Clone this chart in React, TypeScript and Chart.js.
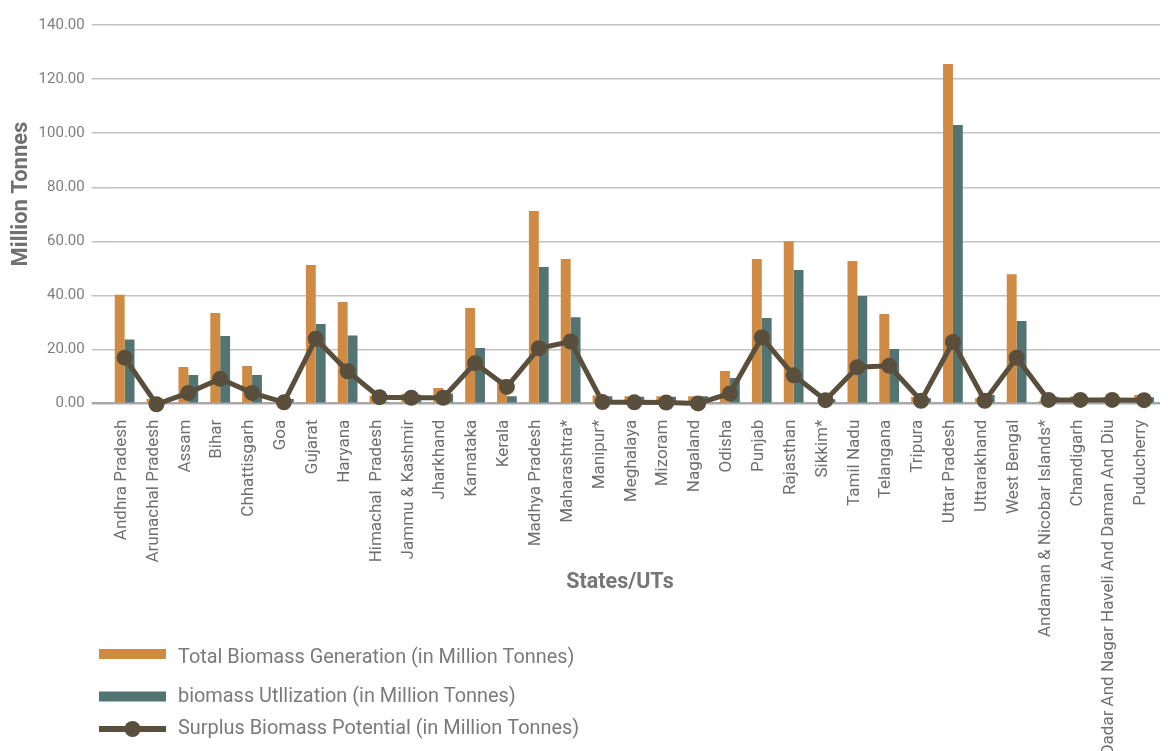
import { useEffect, useRef } from "react";
import { Chart, registerables } from "chart.js";

Chart.register(...registerables);

// States / union territories along the category axis
const states = [
  "Andhra Pradesh",
  "Arunachal Pradesh",
  "Assam",
  "Bihar",
  "Chhattisgarh",
  "Goa",
  "Gujarat",
  "Haryana",
  "Himachal  Pradesh",
  "Jammu & Kashmir",
  "Jharkhand",
  "Karnataka",
  "Kerala",
  "Madhya Pradesh",
  "Maharashtra*",
  "Manipur*",
  "Meghalaya",
  "Mizoram",
  "Nagaland",
  "Odisha",
  "Punjab",
  "Rajasthan",
  "Sikkim*",
  "Tamil Nadu",
  "Telangana",
  "Tripura",
  "Uttar Pradesh",
  "Uttarakhand",
  "West Bengal",
  "Andaman & Nicobar Islands*",
  "Chandigarh",
  "Dadar And Nagar Haveli And Daman And Diu",
  "Puducherry",
];

// Million tonnes per state
const totalGeneration = [
  40.3, 1.7, 13.6, 33.5, 13.9, 1.4, 51.3, 37.6, 2.9, 3.7, 5.8, 35.4, 9.0, 71.2,
  53.5, 3.0, 2.8, 2.8, 2.8, 12.1, 53.5, 60.1, 0.5, 52.8, 33.2, 2.5, 125.6, 2.0,
  47.9, 1.0, 2.8, 2.4, 3.2,
];

const biomassUtilization = [
  23.7, 1.0, 10.6, 25.0, 10.6, 1.7, 29.5, 25.2, 0.6, 3.3, 3.8, 20.6, 2.8, 50.5,
  32.0, 2.8, 2.6, 2.6, 2.8, 9.5, 31.7, 49.4, 1.6, 39.8, 20.2, 2.0, 103.0, 3.2,
  30.6, 2.6, 0.5, 0.5, 2.4,
];

const surplusPotential = [
  17.0, -0.2, 4.0, 9.2, 4.0, 0.5, 24.0, 12.0, 2.4, 2.2, 2.2, 15.0, 6.2, 20.5,
  23.0, 0.6, 0.5, 0.4, 0.1, 3.8, 24.5, 10.5, 1.3, 13.5, 14.0, 1.1, 22.8, 1.1,
  17.0, 1.4, 1.4, 1.4, 1.3,
];

const seriesLabels = [
  "Total Biomass Generation (in Million Tonnes)",
  "biomass Utllization (in Million Tonnes)",
  "Surplus Biomass Potential (in Million Tonnes)",
];

const yAxisTitle = "Million Tonnes";
const xAxisTitle = "States/UTs";

const ORANGE = "#cf8a43";
const TEAL = "#527472";
const BROWN = "#5a4f3c";
const FONT = "Roboto, 'Noto Sans', sans-serif";

// Axis titles placed at fixed spots around the plot
const axisTitlesPlugin = {
  id: "axisTitles",
  afterDraw(chart: any) {
    const ctx = chart.ctx;
    ctx.save();
    ctx.font = `bold 21.5px ${FONT}`;
    ctx.textAlign = "center";
    ctx.textBaseline = "middle";
    ctx.fillStyle = "#767676";
    ctx.fillText(xAxisTitle, 620, 583);
    ctx.translate(21, 194);
    ctx.rotate(-Math.PI / 2);
    ctx.fillStyle = "#707070";
    ctx.font = `bold 22px ${FONT}`;
    ctx.fillText(yAxisTitle, 0, 0);
    ctx.restore();
  },
};

// Stacked legend in the lower-left corner
const stackedLegendPlugin = {
  id: "stackedLegend",
  afterDraw(chart: any) {
    const ctx = chart.ctx;
    const rows = [
      { swatchY: 654, textY: 658 },
      { swatchY: 696.5, textY: 697 },
      { swatchY: 729, textY: 729 },
    ];
    const x0 = 99;
    const x1 = 166;
    ctx.save();
    chart.data.datasets.forEach((ds: any, i: number) => {
      const row = rows[i];
      if (!row) return;
      if (ds.type === "line") {
        ctx.strokeStyle = ds.borderColor;
        ctx.lineWidth = 6;
        ctx.beginPath();
        ctx.moveTo(x0, row.swatchY);
        ctx.lineTo(x1, row.swatchY);
        ctx.stroke();
        ctx.fillStyle = ds.pointBackgroundColor;
        ctx.beginPath();
        ctx.arc((x0 + x1) / 2, row.swatchY, 8, 0, Math.PI * 2);
        ctx.fill();
      } else {
        ctx.fillStyle = ds.backgroundColor;
        ctx.fillRect(x0, row.swatchY - 5, x1 - x0, 10);
      }
      ctx.font = `19.9px ${FONT}`;
      ctx.fillStyle = "#7a7a7a";
      ctx.textAlign = "left";
      ctx.textBaseline = "middle";
      ctx.fillText(ds.label, 178, row.textY);
    });
    ctx.restore();
  },
};

export default function App() {
  const canvasRef = useRef<HTMLCanvasElement | null>(null);

  useEffect(() => {
    document.body.style.margin = "0";
    const canvas = canvasRef.current;
    if (!canvas) return;

    const chart = new Chart(canvas, {
      type: "bar",
      data: {
        labels: states,
        datasets: [
          {
            type: "bar",
            label: seriesLabels[0],
            data: totalGeneration,
            backgroundColor: ORANGE,
            categoryPercentage: 0.62,
            barPercentage: 1.0,
            order: 2,
          },
          {
            type: "bar",
            label: seriesLabels[1],
            data: biomassUtilization,
            backgroundColor: TEAL,
            categoryPercentage: 0.62,
            barPercentage: 1.0,
            order: 2,
          },
          {
            type: "line",
            label: seriesLabels[2],
            data: surplusPotential,
            borderColor: BROWN,
            borderWidth: 5,
            pointBackgroundColor: BROWN,
            pointBorderColor: BROWN,
            pointBorderWidth: 0,
            pointRadius: 8,
            tension: 0,
            clip: false,
            order: 0,
          } as any,
        ],
      },
      options: {
        responsive: false,
        animation: false,
        events: [],
        layout: { padding: { top: 25, right: 3, left: 0, bottom: 0 } },
        plugins: {
          legend: { display: false },
          tooltip: { enabled: false },
          title: { display: false },
        },
        scales: {
          x: {
            grid: { display: false, drawTicks: false },
            border: { display: false },
            ticks: {
              autoSkip: false,
              minRotation: 90,
              maxRotation: 90,
              padding: 16,
              labelOffset: -3,
              color: "#6f6f6f",
              font: { family: FONT, size: 17 },
            },
            afterFit(scale: any) {
              scale.height = 347.3;
              scale.paddingLeft = 0;
              scale.paddingRight = 0;
            },
          },
          y: {
            min: 0,
            max: 140,
            ticks: {
              stepSize: 20,
              padding: 7,
              color: "#7f7f7f",
              font: { family: FONT, size: 15 },
              callback: (v: any) => Number(v).toFixed(2),
            },
            grid: {
              tickLength: 17,
              color: (c: any) => (c.tick && c.tick.value === 0 ? "#a9a9a9" : "#c2c2c2"),
              lineWidth: (c: any) => (c.tick && c.tick.value === 0 ? 2.5 : 1.5),
            },
            border: { display: false },
            afterFit(scale: any) {
              scale.width = 108.7;
            },
          },
        },
      },
      plugins: [axisTitlesPlugin, stackedLegendPlugin],
    });

    return () => chart.destroy();
  }, []);

  return (
    <div style={{ position: "relative", width: 1168, height: 751, background: "#ffffff" }}>
      <canvas ref={canvasRef} width={1168} height={751} style={{ display: "block" }} />
    </div>
  );
}
